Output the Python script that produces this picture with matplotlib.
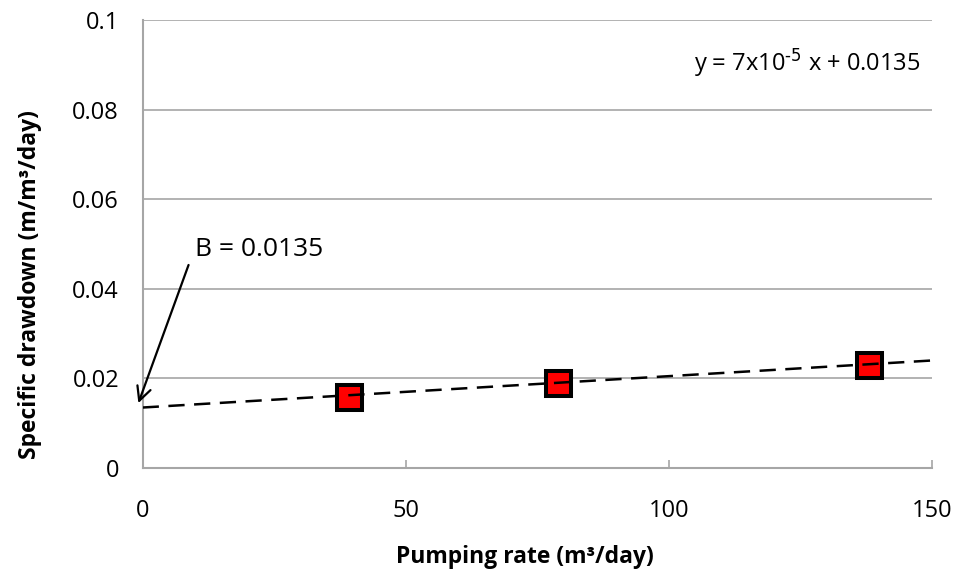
import matplotlib.pyplot as plt
import numpy as np

plt.rcParams['font.family'] = ['Open Sans', 'DejaVu Sans']
plt.rcParams['mathtext.default'] = 'regular'

# data
pump_rate = [39.3, 79.0, 138.0]
spec_dd = [0.0159, 0.0189, 0.0230]
slope = 7e-5
intercept = 0.0135
fit_x = [0, 150]
x_ticks = [0, 50, 100, 150]
y_ticks = [0, 0.02, 0.04, 0.06, 0.08, 0.1]
y_labels = ['0', '0.02', '0.04', '0.06', '0.08', '0.1']

fig = plt.figure(figsize=(9.55, 5.76), dpi=100)
ax = fig.add_axes([0.1494, 0.1875, 0.8265, 0.7778])

grid_col = '#a6a6a6'
for yv in y_ticks[1:]:
    ax.axhline(yv, color=grid_col, lw=1.2, zorder=1)

ax.plot(pump_rate, spec_dd, ls='none', marker='s', ms=18, mfc='#ff0000',
        mec='black', mew=2.9, zorder=3)

fit_y = [slope * v + intercept for v in fit_x]
line, = ax.plot(fit_x, fit_y, color='black', lw=1.8, zorder=4)
line.set_dashes((6.5, 3.8))

ax.set_xlim(0, 150)
ax.set_ylim(0, 0.1)
ax.set_xticks(x_ticks)
ax.set_yticks(y_ticks)
ax.set_yticklabels(y_labels)

for s in ['top', 'right']:
    ax.spines[s].set_visible(False)
for s in ['left', 'bottom']:
    ax.spines[s].set_color(grid_col)
    ax.spines[s].set_linewidth(1.5)

ax.tick_params(axis='x', direction='in', length=6, width=1.2, color=grid_col,
               pad=22, labelsize=17)
ax.tick_params(axis='y', length=0, pad=17, labelsize=17)

ax.set_xlabel('Pumping rate (m³/day)', fontsize=16.5, fontweight='bold')
ax.set_ylabel('Specific drawdown (m/m³/day)', fontsize=16.5, fontweight='bold')
ax.xaxis.set_label_coords(0.484, -0.172)
ax.yaxis.set_label_coords(-0.128, 0.41)

ax.text(0.985, 0.905, r'y = 7x10$^{\text{-5}}$ x + 0.0135', transform=ax.transAxes,
        ha='right', va='center', fontsize=17)

ax.annotate('', xy=(-1.0, 0.0139), xytext=(8.9, 0.0459),
            arrowprops=dict(arrowstyle='->,head_length=1.0,head_width=0.5',
                            color='black', lw=1.6),
            annotation_clip=False)
ax.text(10.0, 0.0487, 'B = 0.0135', fontsize=19, ha='left', va='center')

fig.savefig('out.png', dpi=100)
